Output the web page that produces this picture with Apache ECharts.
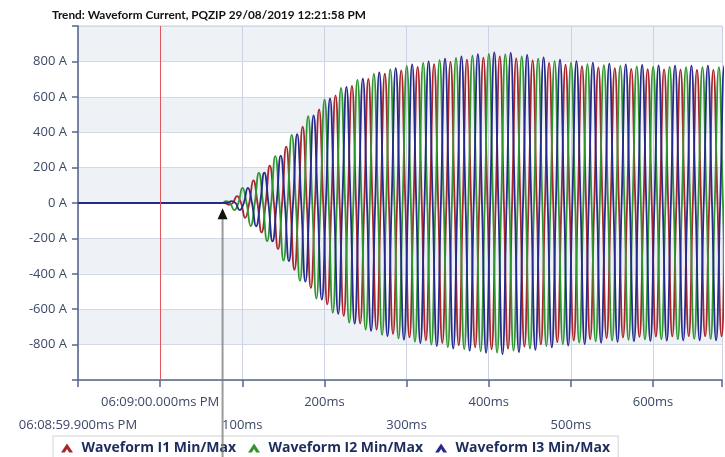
<!DOCTYPE html>
<html>
<head>
<meta charset="utf-8">
<script src="https://cdn.jsdelivr.net/npm/echarts@6/dist/echarts.min.js"></script>
<style>
  html, body { margin: 0; padding: 0; background: #fff; }
  #chart { width: 725px; height: 457px; }
</style>
</head>
<body>
<div id="chart"></div>
<script>
var seriesNames = ['Waveform I1 Min/Max', 'Waveform I2 Min/Max', 'Waveform I3 Min/Max'];
var seriesColors = ['#a8262b', '#2f962f', '#262a8c'];

// x axis ticks (ms relative to trigger) and their labels
var xTickValues = [-100, 0, 100, 200, 300, 400, 500, 600];
var xTickLabels = ['06:08:59.900ms PM', '06:09:00.000ms PM', '100ms', '200ms', '300ms', '400ms', '500ms', '600ms'];
var yTickValues = [-800, -600, -400, -200, 0, 200, 400, 600, 800];

// peak current of each half cycle (A), one value per 10 ms starting at 80 ms
var halfCycleAmps = [
    10, 40, 85, 130, 170, 215, 265, 325, 385, 440,
    490, 540, 585, 620, 650, 675, 695, 715, 730, 745,
    755, 765, 775, 784, 792, 800, 807, 814, 820, 826,
    832, 838, 843, 845, 840, 834, 828, 822, 815, 808,
    802, 797, 793, 789, 785, 782, 779, 777, 775, 773,
    772, 771, 770, 770, 769, 769, 768, 768, 768, 768,
    768, 768
];
// time of first half-cycle peak for I1, I2, I3 (ms) and its sign
var firstPeakTime = [83.5, 80.2, 86.8];
var firstPeakSign = [-1, 1, 1];
var phaseGain = [0.98, 1.0, 1.01];

var triggerTime = 0;
var arrowTime = 76;
var arrowTipValue = -30;

function buildPhase(p) {
    var pts = [[-100, 0], [firstPeakTime[p] - 5, 0]];
    var sign = firstPeakSign[p];
    for (var k = 0; k < halfCycleAmps.length; k++) {
        var t = firstPeakTime[p] + k * 10;
        pts.push([t, sign * halfCycleAmps[k] * phaseGain[p]]);
        pts.push([t + 5, 0]);
        sign = -sign;
    }
    return pts;
}

var labelFont = 'Open Sans';
var labelColor = '#3d4868';
var myChart = echarts.init(document.getElementById('chart'));

var series = seriesNames.map(function (name, i) {
    var s = {
        name: name,
        type: 'line',
        data: buildPhase(i),
        symbol: 'none',
        smooth: 0.5,
        color: seriesColors[i],
        lineStyle: { width: 1.8, color: seriesColors[i] },
        emphasis: { disabled: true },
        z: 3
    };
    if (i === 0) {
        s.markLine = {
            silent: true,
            symbol: 'none',
            label: { show: false },
            lineStyle: { color: '#e2585a', width: 1, type: 'solid' },
            data: [{ xAxis: triggerTime }]
        };
    }
    return s;
});

var option = {
    animation: false,
    backgroundColor: '#fff',
    title: {
        text: 'Trend: Waveform Current, PQZIP 29/08/2019 12:21:58 PM',
        left: 47,
        top: 4,
        textStyle: { fontFamily: 'Lato', fontWeight: 'bold', fontSize: 11.8, color: '#111' }
    },
    grid: { left: 78, right: 0, top: 26, bottom: 77, show: true, borderColor: '#c9cfdc', borderWidth: 1 },
    legend: {
        left: 53,
        top: 436,
        padding: [5, 8, 8, 8],
        borderColor: '#d2d2d2',
        borderWidth: 1,
        itemGap: 12,
        itemWidth: 13,
        itemHeight: 9,
        icon: 'path://M0,9 L6,0 L12,9 L8.2,9 L6,5.4 L3.8,9 Z',
        textStyle: { fontFamily: labelFont, fontWeight: 'bold', fontSize: 14, color: '#1d2c5c', padding: [0, 0, 0, 3] },
        data: seriesNames
    },
    xAxis: {
        type: 'value',
        min: -100,
        max: 684,
        interval: 100,
        axisLine: { onZero: false, lineStyle: { color: '#56668c', width: 1.5 } },
        axisTick: { show: true, length: 7, lineStyle: { color: '#56668c', width: 1.5 } },
        splitLine: { show: true, lineStyle: { color: '#ccd2e2', width: 1 } },
        axisLabel: {
            margin: 8,
            fontFamily: labelFont,
            fontSize: 13,
            color: labelColor,
            formatter: function (v) {
                var i = xTickValues.indexOf(v);
                if (i < 0) return '';
                return (i % 2 === 0 ? '{lo|' : '{hi|') + xTickLabels[i] + '}';
            },
            rich: {
                hi: { fontFamily: labelFont, fontSize: 13, color: labelColor, padding: [8, 0, 0, 0] },
                lo: { fontFamily: labelFont, fontSize: 13, color: labelColor, padding: [31, 0, 0, 0] }
            }
        }
    },
    yAxis: {
        type: 'value',
        min: -1000,
        max: 1000,
        interval: 200,
        axisLine: { show: true, onZero: false, lineStyle: { color: '#56668c', width: 1.5 } },
        axisTick: { show: true, length: 6, lineStyle: { color: '#56668c', width: 1.5 } },
        splitLine: { show: true, lineStyle: { color: '#d3d8e5', width: 1 } },
        splitArea: { show: true, areaStyle: { color: ['#ffffff', '#eef1f6'] } },
        axisLabel: {
            margin: 11,
            fontFamily: labelFont,
            fontSize: 13,
            color: labelColor,
            formatter: function (v) {
                return yTickValues.indexOf(v) < 0 ? '' : v + ' A';
            }
        }
    },
    series: series
};

myChart.setOption(option);

// annotation arrow pointing at the start of the inrush
var tip = myChart.convertToPixel({ gridIndex: 0 }, [arrowTime, arrowTipValue]);
myChart.setOption({
    graphic: [
        {
            type: 'line',
            z: 100,
            shape: { x1: tip[0], y1: tip[1] + 10, x2: tip[0], y2: 457 },
            style: { stroke: 'rgba(120,120,120,0.75)', lineWidth: 2 }
        },
        {
            type: 'polygon',
            z: 101,
            shape: { points: [[tip[0], tip[1]], [tip[0] - 5, tip[1] + 11], [tip[0] + 5, tip[1] + 11]] },
            style: { fill: '#111' }
        }
    ]
});
</script>
</body>
</html>
